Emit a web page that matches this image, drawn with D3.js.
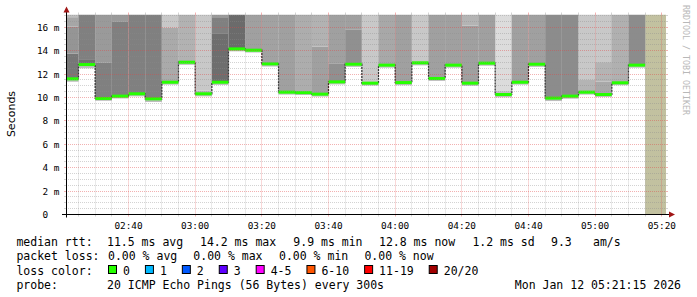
<!DOCTYPE html>
<html><head><meta charset="utf-8">
<script src="https://cdn.jsdelivr.net/npm/d3@7"></script>
<style>
html,body{margin:0;padding:0;background:#fff;}
svg{display:block;}
text{font-family:"DejaVu Sans Mono",monospace;white-space:pre;}
</style></head><body>
<svg id="c" width="697" height="297"></svg>
<script>
// ---------------- data ----------------
const firstStep = new Date(2026, 0, 12, 2, 20, 0);   // start of first 5-minute step
const stepMinutes = 5;
const viewStart = new Date(2026, 0, 12, 2, 21, 15);
const viewEnd = new Date(2026, 0, 12, 5, 21, 15);
const yMax = 17.1;
// median rtt (ms) per 5-minute step
const medians = [11.60, 12.82, 9.92, 10.12, 10.32, 9.89, 11.31, 13.02, 10.32, 11.31,
                 14.16, 14.05, 12.88, 10.46, 10.42, 10.29, 11.34, 12.85, 11.23, 12.77,
                 11.28, 12.97, 11.63, 12.77, 11.23, 12.94, 10.26, 11.31, 12.85, 9.95,
                 10.12, 10.46, 10.26, 11.26, 12.77];
// lowest ping per step (ms)
const lowPings = [11.35, 12.50, 9.72, 9.92, 10.10, 9.62, 11.10, 12.80, 10.10, 11.08,
                  13.95, 13.85, 12.65, 10.25, 10.22, 10.08, 11.12, 12.62, 11.02, 12.55,
                  11.05, 12.75, 11.42, 12.55, 11.00, 12.72, 10.02, 11.10, 12.62, 9.70,
                  9.90, 10.25, 10.05, 11.05, 12.55];
// smoke above median: [upper value in ms, grey level] per step
const smoke = [
  [[13.76,0x77],[16.07,0x95],[16.87,0xa6],[99,0xbd]],
  [[13.28,0x70],[99,0x80]],
  [[13.0,0x80],[99,0x9a]],
  [[16.47,0x80],[99,0x9a]],
  [[99,0x80]],
  [[99,0x80]],
  [[16.0,0xaa],[99,0xc8]],
  [[13.2,0xa8],[99,0xb2]],
  [[10.6,0xb8],[99,0xc8]],
  [[15.44,0x6e],[16.87,0x80],[99,0x9a]],
  [[99,0x6b]],
  [[99,0xa0]],
  [[99,0xa2]],
  [[99,0xa0]],
  [[99,0xad]],
  [[14.36,0xa0],[99,0xb2]],
  [[12.88,0x90],[99,0xa0]],
  [[15.79,0x90],[99,0xa0]],
  [[99,0xc8]],
  [[99,0xa8]],
  [[99,0xa0]],
  [[99,0xc8]],
  [[99,0xa0]],
  [[99,0xa0]],
  [[16.15,0xa0],[99,0xb4]],
  [[99,0xa0]],
  [[10.55,0xc0],[99,0xdc]],
  [[99,0xa0]],
  [[99,0xa0]],
  [[99,0x8c]],
  [[99,0x8c]],
  [[11.5,0xb4],[99,0xc8]],
  [[11.37,0xa8],[13.03,0xb4],[99,0xc8]],
  [[99,0xb0]],
  [[99,0x8c]]
];
const yTicks = [0, 2, 4, 6, 8, 10, 12, 14, 16];
const yTickLabels = ["0  ", "2 m", "4 m", "6 m", "8 m", "10 m", "12 m", "14 m", "16 m"];
const legendRtt = [["median rtt:", 16.4], ["11.5 ms avg", 107], ["14.2 ms max", 200], ["9.9 ms min", 293.3],
                   ["12.8 ms now", 379], ["1.2 ms sd", 472.4], ["9.3", 551], ["am/s", 593]];
const legendLoss = [["packet loss:", 16.4], ["0.00 % avg", 108], ["0.00 % max", 193.3], ["0.00 % min", 279], ["0.00 % now", 364.4]];
const lossLabels = ["0", "1", "2", "3", "4-5", "6-10", "11-19", "20/20"];
const lossColors = ["#26ff00", "#00b8ff", "#0059ff", "#5e00ff", "#ff00ff", "#ff5500", "#ff0000", "#a10000"];
const probeText = "20 ICMP Echo Pings (56 Bytes) every 300s";
const dateText = "Mon Jan 12 05:21:15 2026";

// ---------------- drawing ----------------
const svg = d3.select("#c");
const L = 66, R = 666, T = 14.5, B = 214.5;
const x = d3.scaleTime().domain([viewStart, viewEnd]).range([L, R]);
const y = d3.scaleLinear().domain([0, yMax]).range([B, T]).clamp(true);
const addMin = (d, m) => new Date(d.getTime() + m * 60000);

svg.append("defs").append("clipPath").attr("id", "pc")
  .append("rect").attr("x", L).attr("y", T).attr("width", R - L).attr("height", B - T);

const plot = svg.append("g").attr("clip-path", "url(#pc)");
const steps = medians.map((m, k) => ({
  k, m, t0: addMin(firstStep, k * stepMinutes), t1: addMin(firstStep, (k + 1) * stepMinutes)
}));
const lastEnd = steps[steps.length - 1].t1;

// unknown region
plot.append("rect").attr("x", x(lastEnd)).attr("y", T).attr("width", R - x(lastEnd)).attr("height", B - T)
  .attr("fill", "#c2c1a0");

// smoke
const grey = g => `rgb(${g},${g},${g})`;
steps.forEach(s => {
  const x0 = x(s.t0), x1 = x(s.t1);
  plot.append("rect").attr("x", x0).attr("width", x1 - x0)
    .attr("y", y(s.m)).attr("height", y(lowPings[s.k]) - y(s.m)).attr("fill", "#bdbdbd");
  let lo = s.m;
  smoke[s.k].forEach(([hi, g]) => {
    plot.append("rect").attr("x", x0).attr("width", x1 - x0)
      .attr("y", y(hi)).attr("height", y(lo) - y(hi)).attr("fill", grey(g));
    lo = hi;
  });
});

// grid
const grid = svg.append("g");
const minorC = "rgba(140,140,140,0.38)", majorC = "rgba(225,70,70,0.42)";
const px = v => Math.round(v) + 0.5;
d3.range(0.5, yMax, 0.5).forEach(v => {
  const major = Math.abs(v / 2 - Math.round(v / 2)) < 1e-9;
  const yy = px(y(v) - 0.5);
  const c = major ? majorC : minorC;
  grid.append("line").attr("x1", L).attr("x2", R).attr("y1", yy).attr("y2", yy)
    .attr("stroke", c).attr("stroke-dasharray", "1,1");
  grid.append("line").attr("x1", L - 2).attr("x2", L).attr("y1", yy).attr("y2", yy).attr("stroke", c);
  grid.append("line").attr("x1", R).attr("x2", R + 2).attr("y1", yy).attr("y2", yy).attr("stroke", c);
});
const minorT = d3.timeMinute.every(5).range(viewStart, viewEnd);
minorT.forEach(t => {
  const major = t.getMinutes() % 20 === 0;
  const xx = px(x(t) - 0.5);
  const c = major ? majorC : minorC;
  grid.append("line").attr("x1", xx).attr("x2", xx).attr("y1", T).attr("y2", B)
    .attr("stroke", c).attr("stroke-dasharray", "1,1");
  grid.append("line").attr("x1", xx).attr("x2", xx).attr("y1", B).attr("y2", B + 2).attr("stroke", c);
  grid.append("line").attr("x1", xx).attr("x2", xx).attr("y1", T - 2).attr("y2", T).attr("stroke", c);
});

// median line
const stepPts = steps.map(s => [s.t0, s.m]).concat([[lastEnd, medians[medians.length - 1]]]);
plot.append("path").datum(stepPts)
  .attr("d", d3.line().x(d => x(d[0])).y(d => y(d[1])).curve(d3.curveStepAfter))
  .attr("fill", "none").attr("stroke", "#202020").attr("stroke-width", 1.2).attr("stroke-dasharray", "2,1");
steps.forEach(s => {
  plot.append("rect").attr("x", x(s.t0)).attr("width", x(s.t1) - x(s.t0))
    .attr("y", y(s.m) - 1.5).attr("height", 3).attr("fill", lossColors[0]);
});

// axes
const ax = svg.append("g");
ax.append("line").attr("x1", L + 0.5).attr("x2", L + 0.5).attr("y1", B + 3).attr("y2", 9).attr("stroke", "#000");
ax.append("path").attr("d", `M${L - 2.5},12.5 L${L + 3.5},12.5 L${L + 0.5},6.5 Z`).attr("fill", "#a01515");
ax.append("line").attr("x1", L - 4).attr("x2", 670).attr("y1", B).attr("y2", B).attr("stroke", "#000");
ax.append("path").attr("d", `M669,${B - 3} L669,${B + 3} L675,${B} Z`).attr("fill", "#a01515");

const yl = svg.append("g").attr("font-size", "9.4px").attr("fill", "#000");
yTicks.forEach((v, i) => {
  yl.append("text").attr("x", 59.5).attr("y", y(v) + 3.4).attr("text-anchor", "end").text(yTickLabels[i]);
});
const xl = svg.append("g").attr("font-size", "9.4px").attr("fill", "#000");
d3.timeMinute.every(20).range(viewStart, viewEnd).forEach(t => {
  xl.append("text").attr("x", x(t)).attr("y", 228.5).attr("text-anchor", "middle").text(d3.timeFormat("%H:%M")(t));
});

svg.append("text").attr("transform", "translate(14.5,114) rotate(-90)").attr("text-anchor", "middle")
  .style("font-family", "'DejaVu Sans',sans-serif").attr("font-size", "11px").text("Seconds");

svg.append("text").attr("transform", "translate(683,5) rotate(90)").attr("font-size", "8.3px")
  .attr("fill", "#b8b8b8").text("RRDTOOL / TOBI OETIKER");

// legend
const lg = svg.append("g").attr("font-size", "11.5px").attr("fill", "#000");
legendRtt.forEach(([t, xx]) => lg.append("text").attr("x", xx).attr("y", 245.5).text(t));
legendLoss.forEach(([t, xx]) => lg.append("text").attr("x", xx).attr("y", 260.3).text(t));
lg.append("text").attr("x", 16.4).attr("y", 274.6).text("loss color:");
let bx = 108;
lossLabels.forEach((lab, i) => {
  lg.append("rect").attr("x", bx + 0.5).attr("y", 265.5).attr("width", 8).attr("height", 8)
    .attr("fill", lossColors[i]).attr("stroke", "#000");
  lg.append("text").attr("x", bx + 15).attr("y", 274.6).text(lab);
  bx = bx + 15 + lab.length * 6.92 + 15;
});
lg.append("text").attr("x", 16.4).attr("y", 289).text("probe:");
lg.append("text").attr("x", 107.1).attr("y", 289).text(probeText);
lg.append("text").attr("x", 681).attr("y", 289).attr("text-anchor", "end").text(dateText);
</script>
</body></html>
